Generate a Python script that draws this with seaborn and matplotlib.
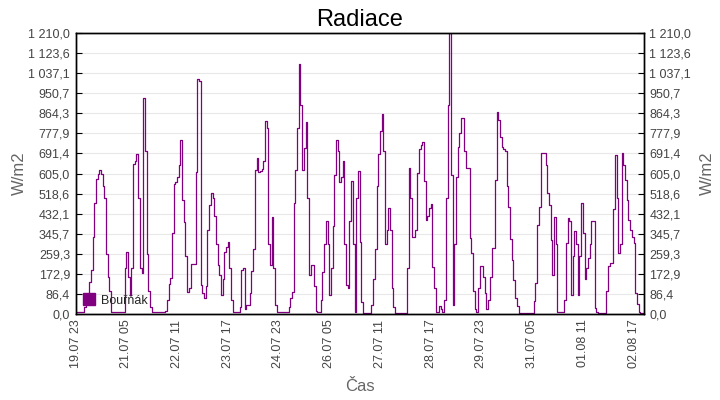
import matplotlib
matplotlib.use("Agg")
import matplotlib.pyplot as plt
import matplotlib.dates as mdates
from matplotlib.lines import Line2D
import seaborn as sns
import pandas as pd

# hourly radiation, W/m2, starting 19.07 23:00
jul19 = [10]
jul20 = [10, 10, 10, 10, 30, 55, 70, 136, 190, 330, 480, 580, 605, 618, 605, 550, 500, 260, 160, 100, 10, 10, 10, 10]
jul21 = [7, 7, 7, 7, 200, 265, 160, 80, 200, 645, 660, 690, 500, 200, 175, 928, 700, 260, 100, 30, 7, 7, 7, 7]
jul22 = [7, 7, 7, 7, 15, 60, 130, 154, 350, 560, 570, 590, 640, 750, 491, 397, 250, 93, 110, 214, 214, 214, 613, 1012]
jul23 = [1005, 125, 89, 70, 120, 360, 470, 519, 500, 420, 300, 210, 170, 82, 150, 268, 290, 311, 200, 60, 7, 7, 7, 7]
jul24 = [30, 190, 200, 20, 39, 39, 90, 185, 280, 620, 670, 610, 615, 625, 660, 830, 800, 300, 210, 416, 200, 40, 7, 7]
jul25 = [7, 7, 7, 7, 7, 30, 70, 96, 480, 620, 800, 1076, 900, 620, 713, 825, 500, 168, 211, 211, 120, 13, 10, 10]
jul26 = [60, 180, 300, 400, 300, 80, 200, 380, 600, 750, 700, 570, 591, 660, 300, 125, 110, 400, 574, 300, 10, 500, 617, 311]
jul27 = [50, 5, 5, 5, 5, 5, 40, 150, 280, 550, 690, 790, 860, 700, 300, 362, 455, 362, 110, 30, 3, 3, 3, 3]
jul28 = [3, 3, 3, 200, 627, 500, 330, 330, 360, 606, 710, 728, 739, 572, 405, 420, 455, 474, 201, 110, 10, 10, 36, 20]
jul29 = [10, 60, 500, 900, 1210, 600, 40, 300, 591, 718, 778, 842, 842, 700, 627, 627, 326, 264, 100, 20, 10, 110, 207, 207]
jul30 = [161, 89, 20, 60, 160, 283, 283, 577, 868, 835, 761, 720, 710, 703, 551, 462, 321, 232, 146, 67, 34, 3, 3, 3]
jul31 = [3, 3, 3, 3, 3, 3, 57, 132, 383, 462, 692, 692, 692, 641, 519, 469, 319, 168, 419, 300, 10, 10, 10, 10]
aug01 = [60, 304, 412, 400, 80, 250, 356, 300, 82, 250, 476, 350, 151, 200, 240, 300, 402, 402, 24, 10, 3, 3, 3, 3]
aug02 = [3, 100, 207, 218, 218, 451, 685, 500, 261, 300, 695, 641, 577, 491, 405, 362, 333, 307, 89, 43, 10, 3, 3, 3]

radiation = (jul19 + jul20 + jul21 + jul22 + jul23 + jul24 + jul25 + jul26 + jul27
             + jul28 + jul29 + jul30 + jul31 + aug01 + aug02)
times = pd.date_range("2024-07-19 23:00", periods=len(radiation), freq="h")
df = pd.DataFrame({"time": times, "radiation": radiation})

y_max = 1210.0
y_ticks = [y_max * i / 14 for i in range(15)]
tick_times = [times[0] + pd.Timedelta(hours=30 * i) for i in range(12)]


def cz_num(v):
    return f"{v:,.1f}".replace(",", " ").replace(".", ",")


sns.set_theme(style="white")
plt.rcParams["font.family"] = ["Liberation Sans", "DejaVu Sans"]

fig, ax = plt.subplots(figsize=(7.2, 4.0), dpi=100)
fig.subplots_adjust(left=0.105, right=0.894, bottom=0.215, top=0.9175)

sns.lineplot(data=df, x="time", y="radiation", ax=ax, color="#800080", lw=0.9,
             drawstyle="steps-post", legend=False)

ax.set_xlim(mdates.date2num(times[0]), mdates.date2num(times[0] + pd.Timedelta(hours=336)))
ax.set_ylim(0, y_max)
ax.set_yticks(y_ticks)
ax.set_yticklabels([cz_num(v) for v in y_ticks])
ax.set_xticks([mdates.date2num(t) for t in tick_times])
ax.set_xticklabels([t.strftime("%d.%m %H") for t in tick_times], rotation=90)
ax.grid(axis="y", color="#e8e8e8", lw=0.8)
ax.set_axisbelow(True)

ax2 = ax.twinx()
ax2.set_ylim(0, y_max)
ax2.set_yticks(y_ticks)
ax2.set_yticklabels([cz_num(v) for v in y_ticks])

for a in (ax, ax2):
    a.tick_params(direction="in", length=4, width=0.8, color="black",
                  labelsize=9, labelcolor="#444444", pad=4)
    for s in a.spines.values():
        s.set_color("black")
        s.set_linewidth(1.0)

ax.set_title("Radiace", fontsize=17, color="black", pad=5)
ax.set_xlabel("Čas", fontsize=12, color="#666666", labelpad=8)
ax.set_ylabel("W/m2", fontsize=12, color="#666666", labelpad=1)
ax2.set_ylabel("W/m2", fontsize=12, color="#666666", labelpad=6, rotation=90)

handle = Line2D([], [], marker="s", color="#800080", linestyle="none", markersize=8)
ax.legend([handle], ["Bouřňák"], loc="lower left", frameon=False, fontsize=9,
          handletextpad=0.4, borderaxespad=0.2, handlelength=1.0)

fig.savefig("out.png", dpi=100)
